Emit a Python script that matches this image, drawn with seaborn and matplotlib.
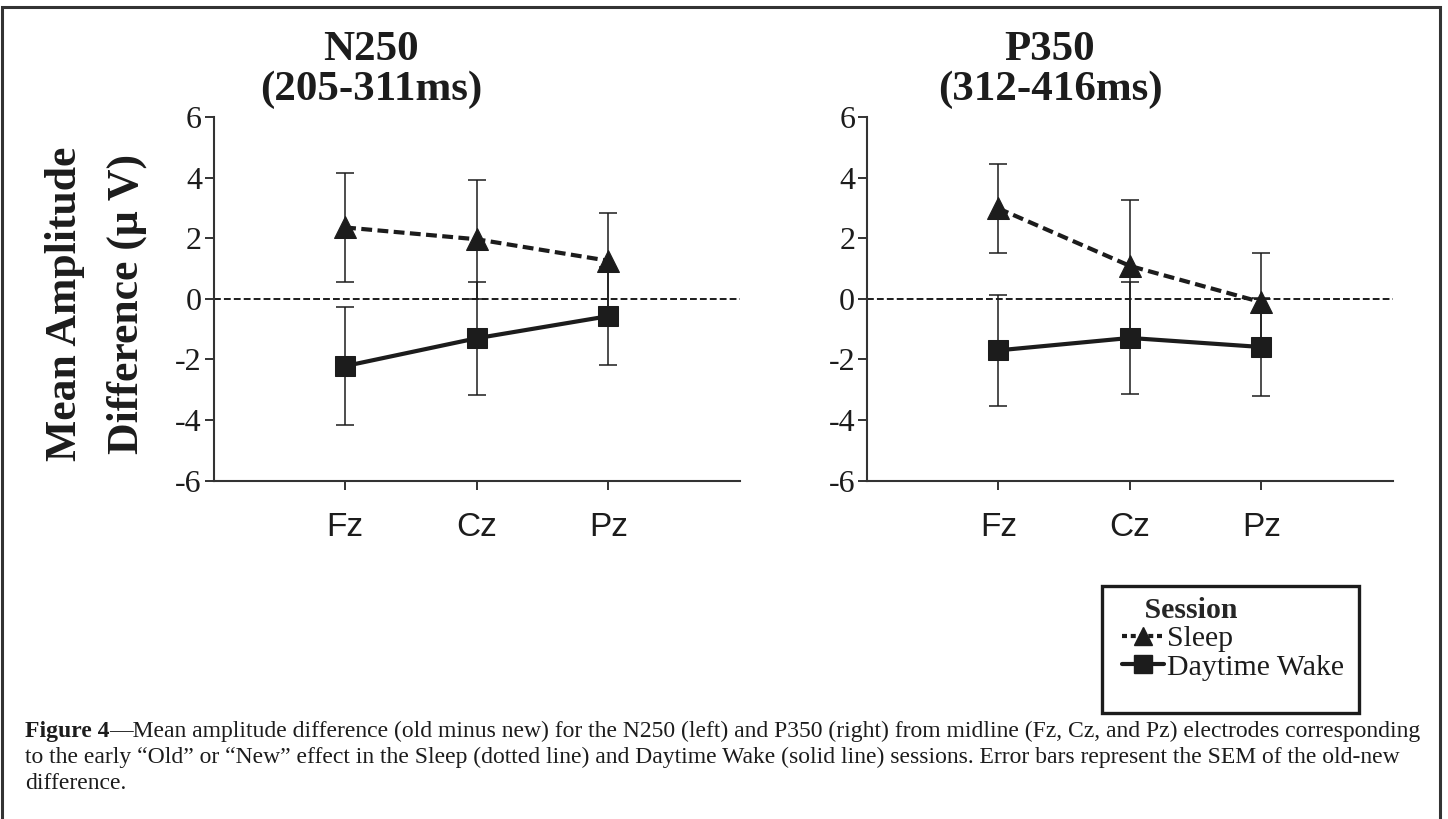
import pandas as pd
import matplotlib
matplotlib.use("Agg")
import matplotlib.pyplot as plt
import seaborn as sns
from matplotlib.lines import Line2D
from matplotlib.patches import Rectangle

# values (mean old-new difference and SEM, in microvolts)
electrodes = ["Fz", "Cz", "Pz"]
sessions = ["Sleep", "Daytime Wake"]

n250_sleep = [2.36, 1.97, 1.26]
n250_sleep_sem = [1.80, 1.97, 1.59]
n250_wake = [-2.22, -1.30, -0.57]
n250_wake_sem = [1.95, 1.86, 1.62]

p350_sleep = [2.99, 1.09, -0.11]
p350_sleep_sem = [1.47, 2.17, 1.62]
p350_wake = [-1.70, -1.29, -1.59]
p350_wake_sem = [1.84, 1.86, 1.62]

panel_titles = [("N250", "(205-311ms)"), ("P350", "(312-416ms)")]
y_ticks = [-6, -4, -2, 0, 2, 4, 6]

caption_bold = "Figure 4"
caption_lines = [
    "\u2014Mean amplitude difference (old minus new) for the N250 (left) and P350 (right) "
    "from midline (Fz, Cz, and Pz) electrodes corresponding",
    "to the early \u201cOld\u201d or \u201cNew\u201d effect in the Sleep (dotted line) and Daytime Wake "
    "(solid line) sessions. Error bars represent the SEM of the old-new",
    "difference.",
]

sns.set_style("ticks")
plt.rcParams["font.family"] = ["Liberation Serif", "DejaVu Serif"]
plt.rcParams["axes.unicode_minus"] = False

ink = "#1c1c1c"
axis_col = "#333333"
W, H = 1448, 819


def panel_df(sleep, sleep_sem, wake, wake_sem):
    pos = list(range(1, len(electrodes) + 1))
    return pd.DataFrame({
        "pos": pos * 2,
        "electrode": electrodes * 2,
        "session": ["Sleep"] * len(sleep) + ["Daytime Wake"] * len(wake),
        "amp": sleep + wake,
        "sem": sleep_sem + wake_sem,
    })


panels = [
    panel_df(n250_sleep, n250_sleep_sem, n250_wake, n250_wake_sem),
    panel_df(p350_sleep, p350_sleep_sem, p350_wake, p350_wake_sem),
]

fig = plt.figure(figsize=(W / 100, H / 100), dpi=100)

ax_top, ax_bot = 117.3, 480.5
axes_px = [(213.5, 740.0), (866.7, 1393.0)]
title_cx = [371, 1050]

for (x0, x1), df, (t1, t2), cx in zip(axes_px, panels, panel_titles, title_cx):
    ax = fig.add_axes([x0 / W, 1 - ax_bot / H, (x1 - x0) / W, (ax_bot - ax_top) / H])

    ax.axhline(0, color=ink, lw=1.4, ls=(0, (3.5, 1.6)), zorder=1)

    for sess in sessions:
        d = df[df["session"] == sess]
        ax.errorbar(d["pos"], d["amp"], yerr=d["sem"], fmt="none", ecolor=ink,
                    elinewidth=1.1, capsize=6.5, capthick=1.1, zorder=2)

    sns.lineplot(data=df, x="pos", y="amp", hue="session", style="session",
                 hue_order=sessions, style_order=sessions, palette=[ink, ink],
                 markers={"Sleep": "^", "Daytime Wake": "s"},
                 dashes={"Sleep": (2.6, 1.3), "Daytime Wake": ""},
                 markersize=14, markeredgecolor=ink, linewidth=3, sort=False,
                 legend=False, ax=ax, zorder=3)
    # slightly bigger triangles, as in the original
    for ln in ax.get_lines():
        if ln.get_marker() == "^":
            ln.set_markersize(16)

    ax.set_xlim(0, len(electrodes) + 1)
    ax.set_ylim(-6, 6)
    ax.set_xticks(range(1, len(electrodes) + 1), electrodes)
    ax.set_yticks(y_ticks)
    ax.set_xlabel("")
    ax.set_ylabel("")
    sns.despine(ax=ax)
    for s in ["left", "bottom"]:
        ax.spines[s].set_linewidth(1.5)
        ax.spines[s].set_color(axis_col)
    ax.tick_params(axis="both", direction="out", length=6.8, width=1.4, color=axis_col,
                   labelcolor=ink)
    ax.tick_params(axis="y", labelsize=23, pad=1.5)
    ax.tick_params(axis="x", labelsize=24, pad=16)
    for lab in ax.get_xticklabels():
        lab.set_fontfamily(["Liberation Sans", "DejaVu Sans"])

    fig.text(cx / W, 1 - 60 / H, t1, ha="center", va="baseline", fontsize=31,
             fontweight="bold", color=ink)
    fig.text(cx / W, 1 - 100 / H, t2, ha="center", va="baseline", fontsize=31,
             fontweight="bold", color=ink)

fig.text(96 / W, 1 - 304 / H, "Mean Amplitude\nDifference (\u03bc V)", rotation=90,
         ha="center", va="center", fontsize=31.5, fontweight="bold", linespacing=1.7,
         color=ink)

# legend
handles = [
    Line2D([], [], color=ink, lw=3, ls=(0, (1.2, 0.9)), marker="^", markersize=13),
    Line2D([], [], color=ink, lw=3, ls="-", marker="s", markersize=13),
]
leg = fig.legend(handles, sessions, title="   Session", loc="upper left",
                 bbox_to_anchor=(1122 / W, 1 - 597 / H), frameon=False,
                 fontsize=21.5, title_fontproperties={"weight": "bold", "size": 21.5},
                 alignment="left", handlelength=1.4, handletextpad=0.12,
                 labelspacing=0.05, borderpad=0, borderaxespad=0)
for t in leg.get_texts():
    t.set_color(ink)
fig.add_artist(Rectangle((1102 / W, 1 - 713 / H), (1359 - 1102) / W, (713 - 586) / H,
                         transform=fig.transFigure, fill=False, lw=2.4, ec=ink))

# outer frame (open at the bottom)
fig.add_artist(Rectangle((2 / W, -0.05), (1440 - 2) / W, 1.05 - 7 / H,
                         transform=fig.transFigure, fill=False, lw=2.2, ec=axis_col))

# caption
cap_size = 17
t_bold = fig.text(25 / W, 1 - 737 / H, caption_bold, fontsize=cap_size, fontweight="bold",
                  va="baseline", color=ink)
fig.canvas.draw()
bb = t_bold.get_window_extent(fig.canvas.get_renderer())
fig.text(bb.x1 / W, 1 - 737 / H, caption_lines[0], fontsize=cap_size, va="baseline", color=ink)
fig.text(25 / W, 1 - 763 / H, caption_lines[1], fontsize=cap_size, va="baseline", color=ink)
fig.text(25 / W, 1 - 789 / H, caption_lines[2], fontsize=cap_size, va="baseline", color=ink)

fig.savefig("out.png", dpi=100)
